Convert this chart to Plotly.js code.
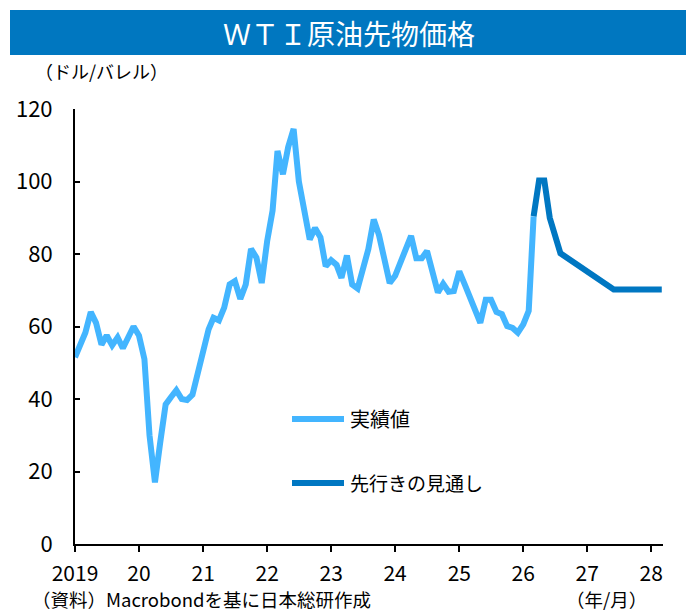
<!DOCTYPE html>
<html>
<head>
<meta charset="utf-8">
<script src="https://cdn.plot.ly/plotly-3.0.1.min.js"></script>
<style>
  html, body { margin: 0; padding: 0; background: #fff; }
  #chart { width: 686px; height: 613px; }
</style>
</head>
<body>
<div id="chart"></div>
<script>
// WTI原油先物価格（月平均、ドル/バレル）
const startYear = 2019;

// 実績値 2019/1 - 2026/3
const actualValues = [
    51.5, 55.0, 58.3, 64.0, 61.0, 55.0, 57.5, 54.8, 57.0, 54.0, 57.0, 60.0,   // 2019
    57.5, 51.0, 30.0, 17.0, 28.0, 38.5, 40.5, 42.4, 40.0, 39.7, 41.2, 47.0,   // 2020
    52.0, 59.2, 62.4, 61.7, 65.2, 71.6, 72.5, 67.6, 71.6, 81.4, 79.0, 72.0,   // 2021
    83.5, 92.0, 108.4, 102.0, 109.5, 114.5, 100.0, 92.0, 84.0, 87.2, 84.6, 76.6, // 2022
    78.3, 77.0, 73.4, 79.6, 71.6, 70.5, 75.5, 81.3, 89.5, 85.2, 78.5, 72.0,   // 2023
    74.0, 77.5, 81.0, 85.0, 78.8, 78.8, 80.8, 75.0, 69.4, 71.8, 69.6, 69.8,   // 2024
    75.2, 71.6, 68.0, 64.0, 61.0, 67.4, 67.4, 64.0, 63.4, 60.1, 59.6, 58.3,   // 2025
    60.6, 64.3, 90.4                                                          // 2026
];

// 先行きの見通し
const forecastDates = ['2026-03-01', '2026-04-01', '2026-05-01', '2026-06-01', '2026-08-01', '2027-06-01', '2028-03-01'];
const forecastValues = [90.4, 100.3, 100.3, 90.0, 80.2, 70.2, 70.2];

// 軸目盛
const xTickVals = ['2019-01-01', '2020-01-01', '2021-01-01', '2022-01-01', '2023-01-01',
                   '2024-01-01', '2025-01-01', '2026-01-01', '2027-01-01', '2028-01-01'];
const xTickText = ['2019', '20', '21', '22', '23', '24', '25', '26', '27', '28'];
const yTickVals = [0, 20, 40, 60, 80, 100, 120];

const seriesNames = ['実績値', '先行きの見通し'];
const colorActual = '#43B5FF';
const colorForecast = '#0077C2';
const fontJP = '"Noto Sans CJK JP", "Noto Sans", sans-serif';

// 月次の日付を作成
function monthDate(index) {
    const y = startYear + Math.floor(index / 12);
    const m = index % 12 + 1;
    return y + '-' + String(m).padStart(2, '0') + '-01';
}
const actualDates = actualValues.map((v, i) => monthDate(i));

const traces = [
    {
        x: actualDates,
        y: actualValues,
        type: 'scatter',
        mode: 'lines',
        name: seriesNames[0],
        line: { color: colorActual, width: 6 },
        showlegend: false
    },
    {
        x: forecastDates,
        y: forecastValues,
        type: 'scatter',
        mode: 'lines',
        name: seriesNames[1],
        line: { color: colorForecast, width: 6 },
        showlegend: false
    }
];

// ピクセル位置 -> paper座標
const plotL = 75, plotW = 588, plotB = 544, plotH = 435;
const px = p => (p - plotL) / plotW;
const py = q => (plotB - q) / plotH;

const layout = {
    width: 686,
    height: 613,
    margin: { l: 75, r: 23, t: 109, b: 69 },
    paper_bgcolor: '#ffffff',
    plot_bgcolor: '#ffffff',
    font: { family: fontJP, size: 21, color: '#000' },
    showlegend: false,
    xaxis: {
        type: 'date',
        range: ['2019-01-01', '2028-03-08'],
        tickmode: 'array',
        tickvals: xTickVals,
        ticktext: xTickText,
        ticks: 'outside',
        ticklen: 6,
        tickwidth: 2,
        tickcolor: '#000',
        showline: true,
        linecolor: '#000',
        linewidth: 2,
        showgrid: false,
        zeroline: false,
        ticklabelstandoff: 4,
        tickfont: { family: fontJP, size: 21, color: '#000' }
    },
    yaxis: {
        range: [0, 120],
        tickmode: 'array',
        tickvals: yTickVals,
        ticks: 'inside',
        ticklen: 5,
        tickwidth: 2,
        tickcolor: '#000',
        showline: true,
        linecolor: '#000',
        linewidth: 2,
        showgrid: false,
        zeroline: false,
        ticklabelstandoff: 16,
        tickfont: { family: fontJP, size: 22, color: '#000' }
    },
    shapes: [
        // タイトル帯
        {
            type: 'rect', xref: 'paper', yref: 'paper',
            x0: px(10), x1: px(686), y0: py(55), y1: py(10),
            fillcolor: '#0077C0', line: { width: 0 }, layer: 'below'
        },
        // 凡例の線
        {
            type: 'line', xref: 'paper', yref: 'paper',
            x0: px(292), x1: px(344), y0: py(419), y1: py(419),
            line: { color: colorActual, width: 6 }
        },
        {
            type: 'line', xref: 'paper', yref: 'paper',
            x0: px(292), x1: px(344), y0: py(483), y1: py(483),
            line: { color: colorForecast, width: 6 }
        }
    ],
    annotations: [
        {
            text: 'ＷＴＩ原油先物価格', xref: 'paper', yref: 'paper',
            x: px(349), y: py(33), xanchor: 'center', yanchor: 'middle',
            showarrow: false, font: { family: fontJP, size: 28, color: '#ffffff' }
        },
        {
            text: '（ドル/バレル）', xref: 'paper', yref: 'paper',
            x: px(33), y: py(71), xanchor: 'left', yanchor: 'middle',
            showarrow: false, font: { family: fontJP, size: 18, color: '#000' }
        },
        {
            text: seriesNames[0], xref: 'paper', yref: 'paper',
            x: px(348), y: py(418), xanchor: 'left', yanchor: 'middle',
            showarrow: false, font: { family: fontJP, size: 20, color: '#000' }
        },
        {
            text: seriesNames[1], xref: 'paper', yref: 'paper',
            x: px(348), y: py(482), xanchor: 'left', yanchor: 'middle',
            showarrow: false, font: { family: fontJP, size: 19, color: '#000' }
        },
        {
            text: '（資料）Macrobondを基に日本総研作成', xref: 'paper', yref: 'paper',
            x: px(31), y: py(599), xanchor: 'left', yanchor: 'middle',
            showarrow: false, borderpad: 0, font: { family: fontJP, size: 18.5, color: '#000' }
        },
        {
            text: '（年/月）', xref: 'paper', yref: 'paper',
            x: px(606), y: py(599), xanchor: 'center', yanchor: 'middle',
            showarrow: false, borderpad: 0, font: { family: fontJP, size: 18.5, color: '#000' }
        }
    ]
};

Plotly.newPlot('chart', traces, layout, { displayModeBar: false, staticPlot: true });
</script>
</body>
</html>
